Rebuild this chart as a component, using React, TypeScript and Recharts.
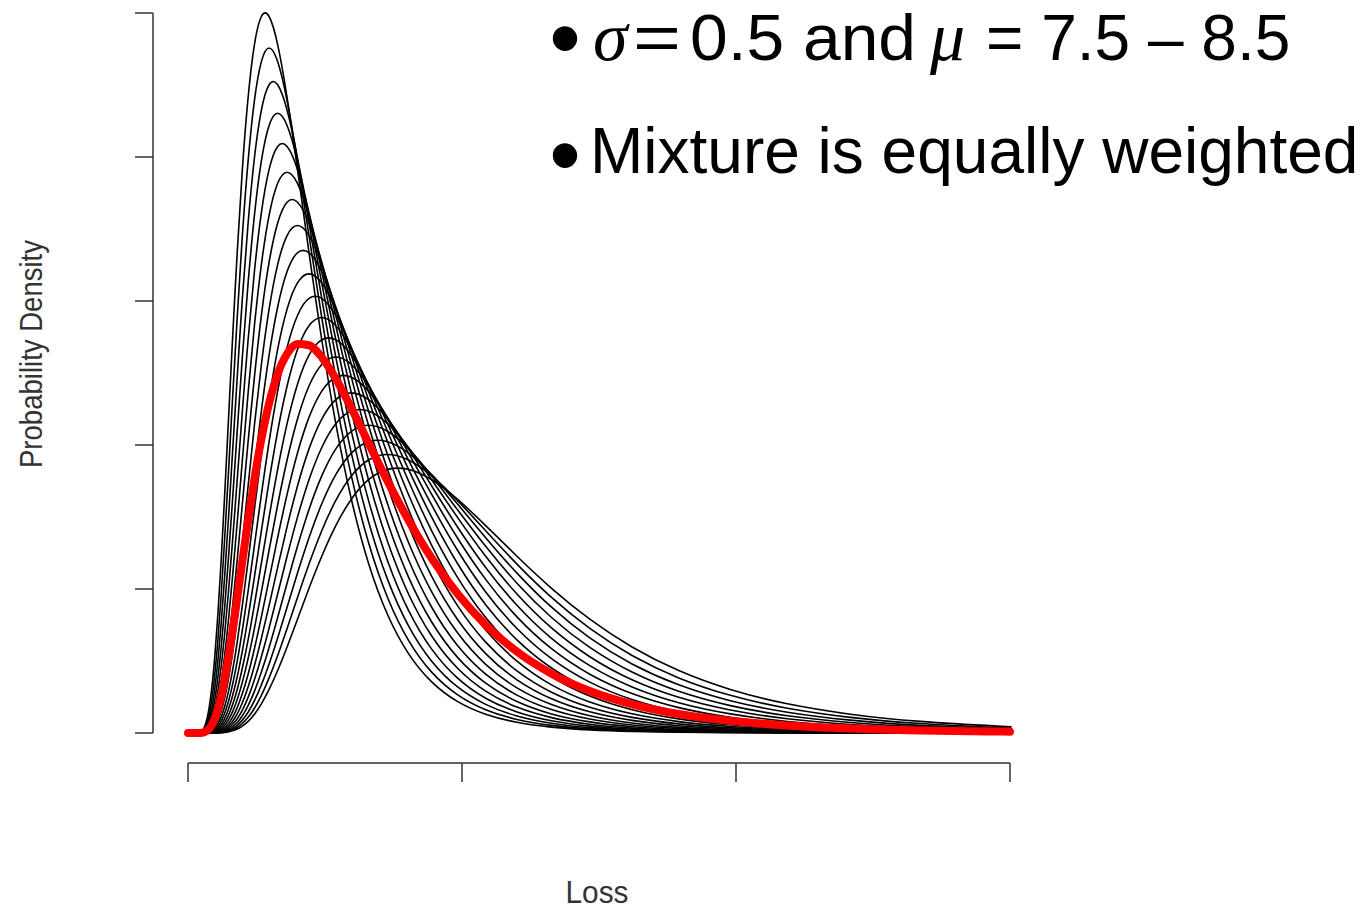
import React from 'react';
import { LineChart, Line, XAxis, YAxis, Label } from 'recharts';

// Loss grid (x values)
const lossValues = [0, 148, 164, 181, 200, 221, 245, 270, 299, 330, 365, 403, 446, 493, 545, 602, 665, 735, 812, 898, 992, 1097, 1212, 1339, 1480, 1636, 1808, 1998, 2208, 2441, 2697, 2981, 3294, 3641, 4024, 4447, 4915, 5432, 6003, 6634, 7332, 8103, 8955, 9897, 10938, 12088, 13360, 14765, 15000];

// Lognormal densities (sigma = 0.5, mu = 7.50 ... 8.50), values in units of 1e-4
const mu750 = [0, 0.0002, 0.0005, 0.0011, 0.0025, 0.0053, 0.0109, 0.0216, 0.0410, 0.0746, 0.1306, 0.2197, 0.3551, 0.5513, 0.8226, 1.1788, 1.6235, 2.1482, 2.7309, 3.3359, 3.9148, 4.4131, 4.7805, 4.9757, 4.9757, 4.7805, 4.4131, 3.9148, 3.3359, 2.7309, 2.1482, 1.6235, 1.1788, 0.8226, 0.5513, 0.3551, 0.2197, 0.1306, 0.0746, 0.0410, 0.0216, 0.0109, 0.0053, 0.0025, 0.0011, 0.0005, 0.0002, 0.0001, 0.0001];
const mu755 = [0, 0.0001, 0.0003, 0.0007, 0.0016, 0.0035, 0.0073, 0.0146, 0.0284, 0.0529, 0.0944, 0.1620, 0.2670, 0.4230, 0.6438, 0.9413, 1.3226, 1.7854, 2.3154, 2.8852, 3.4542, 3.9733, 4.3911, 4.6626, 4.7568, 4.6626, 4.3911, 3.9733, 3.4542, 2.8852, 2.3154, 1.7854, 1.3226, 0.9413, 0.6438, 0.4230, 0.2670, 0.1620, 0.0944, 0.0529, 0.0284, 0.0146, 0.0073, 0.0035, 0.0016, 0.0007, 0.0003, 0.0001, 0.0001];
const mu760 = [0, 0.0001, 0.0002, 0.0005, 0.0010, 0.0023, 0.0048, 0.0099, 0.0195, 0.0371, 0.0675, 0.1182, 0.1988, 0.3213, 0.4988, 0.7443, 1.0666, 1.4690, 1.9437, 2.4709, 3.0183, 3.5421, 3.9930, 4.3254, 4.5020, 4.5020, 4.3254, 3.9930, 3.5421, 3.0183, 2.4709, 1.9437, 1.4690, 1.0666, 0.7443, 0.4988, 0.3213, 0.1988, 0.1182, 0.0675, 0.0371, 0.0195, 0.0099, 0.0048, 0.0023, 0.0010, 0.0005, 0.0002, 0.0002];
const mu765 = [0, 0, 0.0001, 0.0003, 0.0006, 0.0015, 0.0032, 0.0066, 0.0133, 0.0257, 0.0479, 0.0854, 0.1466, 0.2416, 0.3828, 0.5825, 0.8518, 1.1967, 1.6155, 2.0951, 2.6106, 3.1255, 3.5952, 3.9732, 4.2189, 4.3041, 4.2189, 3.9732, 3.5952, 3.1255, 2.6106, 2.0951, 1.6155, 1.1967, 0.8518, 0.5825, 0.3828, 0.2416, 0.1466, 0.0854, 0.0479, 0.0257, 0.0133, 0.0066, 0.0032, 0.0015, 0.0006, 0.0003, 0.0002];
const mu770 = [0, 0, 0.0001, 0.0002, 0.0004, 0.0009, 0.0020, 0.0043, 0.0089, 0.0177, 0.0336, 0.0611, 0.1069, 0.1799, 0.2907, 0.4513, 0.6735, 0.9651, 1.3292, 1.7588, 2.2358, 2.7311, 3.2050, 3.6130, 3.9138, 4.0736, 4.0736, 3.9138, 3.6130, 3.2050, 2.7311, 2.2358, 1.7588, 1.3292, 0.9651, 0.6735, 0.4513, 0.2907, 0.1799, 0.1069, 0.0611, 0.0336, 0.0177, 0.0089, 0.0043, 0.0020, 0.0009, 0.0004, 0.0004];
const mu775 = [0, 0, 0, 0.0001, 0.0002, 0.0005, 0.0013, 0.0029, 0.0060, 0.0120, 0.0233, 0.0433, 0.0773, 0.1326, 0.2186, 0.3463, 0.5271, 0.7707, 1.0828, 1.4617, 1.8957, 2.3622, 2.8281, 3.2531, 3.5951, 3.8175, 3.8945, 3.8175, 3.5951, 3.2531, 2.8281, 2.3622, 1.8957, 1.4617, 1.0828, 0.7707, 0.5271, 0.3463, 0.2186, 0.1326, 0.0773, 0.0433, 0.0233, 0.0120, 0.0060, 0.0029, 0.0013, 0.0005, 0.0005];
const mu780 = [0, 0, 0, 0, 0.0001, 0.0004, 0.0008, 0.0019, 0.0039, 0.0081, 0.0160, 0.0304, 0.0553, 0.0967, 0.1628, 0.2631, 0.4084, 0.6094, 0.8733, 1.2027, 1.5914, 2.0230, 2.4712, 2.9001, 3.2693, 3.5414, 3.6860, 3.6860, 3.5414, 3.2693, 2.9001, 2.4712, 2.0230, 1.5914, 1.2027, 0.8733, 0.6094, 0.4084, 0.2631, 0.1628, 0.0967, 0.0553, 0.0304, 0.0160, 0.0081, 0.0039, 0.0019, 0.0008, 0.0007];
const mu785 = [0, 0, 0, 0, 0.0001, 0.0002, 0.0005, 0.0012, 0.0026, 0.0054, 0.0109, 0.0211, 0.0392, 0.0699, 0.1200, 0.1978, 0.3134, 0.4769, 0.6974, 0.9798, 1.3226, 1.7153, 2.1374, 2.5589, 2.9435, 3.2530, 3.4542, 3.5239, 3.4542, 3.2530, 2.9435, 2.5589, 2.1374, 1.7153, 1.3226, 0.9798, 0.6974, 0.4769, 0.3134, 0.1978, 0.1200, 0.0699, 0.0392, 0.0211, 0.0109, 0.0054, 0.0026, 0.0012, 0.0010];
const mu790 = [0, 0, 0, 0, 0, 0.0001, 0.0003, 0.0007, 0.0017, 0.0036, 0.0073, 0.0145, 0.0275, 0.0500, 0.0875, 0.1473, 0.2380, 0.3695, 0.5514, 0.7902, 1.0882, 1.4399, 1.8305, 2.2361, 2.6241, 2.9581, 3.2043, 3.3352, 3.3352, 3.2043, 2.9581, 2.6241, 2.2361, 1.8305, 1.4399, 1.0882, 0.7902, 0.5514, 0.3695, 0.2380, 0.1473, 0.0875, 0.0500, 0.0275, 0.0145, 0.0073, 0.0036, 0.0017, 0.0015];
const mu795 = [0, 0, 0, 0, 0, 0.0001, 0.0002, 0.0004, 0.0011, 0.0024, 0.0049, 0.0098, 0.0191, 0.0355, 0.0633, 0.1086, 0.1790, 0.2836, 0.4316, 0.6310, 0.8866, 1.1968, 1.5521, 1.9340, 2.3154, 2.6634, 2.9434, 3.1255, 3.1886, 3.1255, 2.9434, 2.6634, 2.3154, 1.9340, 1.5521, 1.1968, 0.8866, 0.6310, 0.4316, 0.2836, 0.1790, 0.1086, 0.0633, 0.0355, 0.0191, 0.0098, 0.0049, 0.0024, 0.0021];
const mu800 = [0, 0, 0, 0, 0, 0, 0.0001, 0.0003, 0.0007, 0.0015, 0.0032, 0.0066, 0.0131, 0.0249, 0.0452, 0.0792, 0.1332, 0.2154, 0.3344, 0.4989, 0.7150, 0.9847, 1.3029, 1.6563, 2.0232, 2.3743, 2.6766, 2.8994, 3.0177, 3.0177, 2.8994, 2.6766, 2.3743, 2.0232, 1.6563, 1.3029, 0.9847, 0.7150, 0.4989, 0.3344, 0.2154, 0.1332, 0.0792, 0.0452, 0.0249, 0.0131, 0.0066, 0.0032, 0.0029];
const mu805 = [0, 0, 0, 0, 0, 0, 0.0001, 0.0002, 0.0004, 0.0010, 0.0021, 0.0044, 0.0089, 0.0173, 0.0321, 0.0572, 0.0983, 0.1620, 0.2566, 0.3905, 0.5710, 0.8022, 1.0829, 1.4044, 1.7500, 2.0951, 2.4099, 2.6633, 2.8280, 2.8852, 2.8280, 2.6633, 2.4099, 2.0951, 1.7500, 1.4044, 1.0829, 0.8022, 0.5710, 0.3905, 0.2566, 0.1620, 0.0983, 0.0572, 0.0321, 0.0173, 0.0089, 0.0044, 0.0039];
const mu810 = [0, 0, 0, 0, 0, 0, 0, 0.0001, 0.0003, 0.0006, 0.0014, 0.0029, 0.0060, 0.0119, 0.0225, 0.0409, 0.0717, 0.1206, 0.1949, 0.3026, 0.4514, 0.6469, 0.8910, 1.1789, 1.4987, 1.8307, 2.1484, 2.4219, 2.6236, 2.7306, 2.7306, 2.6236, 2.4219, 2.1484, 1.8307, 1.4987, 1.1789, 0.8910, 0.6469, 0.4514, 0.3026, 0.1949, 0.1206, 0.0717, 0.0409, 0.0225, 0.0119, 0.0060, 0.0054];
const mu815 = [0, 0, 0, 0, 0, 0, 0, 0.0001, 0.0002, 0.0004, 0.0009, 0.0019, 0.0040, 0.0080, 0.0156, 0.0290, 0.0518, 0.0889, 0.1465, 0.2322, 0.3533, 0.5166, 0.7259, 0.9798, 1.2707, 1.5834, 1.8957, 2.1806, 2.4099, 2.5589, 2.6106, 2.5589, 2.4099, 2.1806, 1.8957, 1.5834, 1.2707, 0.9798, 0.7259, 0.5166, 0.3533, 0.2322, 0.1465, 0.0889, 0.0518, 0.0290, 0.0156, 0.0080, 0.0072];
const mu820 = [0, 0, 0, 0, 0, 0, 0, 0, 0.0001, 0.0002, 0.0005, 0.0012, 0.0026, 0.0054, 0.0107, 0.0204, 0.0370, 0.0649, 0.1091, 0.1764, 0.2738, 0.4085, 0.5854, 0.8063, 1.0668, 1.3562, 1.6567, 1.9441, 2.1916, 2.3740, 2.4710, 2.4710, 2.3740, 2.1916, 1.9441, 1.6567, 1.3562, 1.0668, 0.8063, 0.5854, 0.4085, 0.2738, 0.1764, 0.1091, 0.0649, 0.0370, 0.0204, 0.0107, 0.0097];
const mu825 = [0, 0, 0, 0, 0, 0, 0, 0, 0, 0.0001, 0.0003, 0.0008, 0.0017, 0.0036, 0.0073, 0.0141, 0.0263, 0.0469, 0.0804, 0.1326, 0.2101, 0.3197, 0.4675, 0.6568, 0.8866, 1.1498, 1.4327, 1.7153, 1.9731, 2.1805, 2.3154, 2.3622, 2.3154, 2.1805, 1.9731, 1.7153, 1.4327, 1.1498, 0.8866, 0.6568, 0.4675, 0.3197, 0.2101, 0.1326, 0.0804, 0.0469, 0.0263, 0.0141, 0.0128];
const mu830 = [0, 0, 0, 0, 0, 0, 0, 0, 0, 0.0001, 0.0002, 0.0005, 0.0011, 0.0024, 0.0049, 0.0097, 0.0184, 0.0335, 0.0587, 0.0987, 0.1595, 0.2477, 0.3696, 0.5297, 0.7295, 0.9652, 1.2270, 1.4989, 1.7590, 1.9828, 2.1479, 2.2356, 2.2356, 2.1479, 1.9828, 1.7590, 1.4989, 1.2270, 0.9652, 0.7295, 0.5297, 0.3696, 0.2477, 0.1595, 0.0987, 0.0587, 0.0335, 0.0184, 0.0167];
const mu835 = [0, 0, 0, 0, 0, 0, 0, 0, 0, 0, 0.0001, 0.0003, 0.0007, 0.0016, 0.0033, 0.0066, 0.0128, 0.0238, 0.0424, 0.0728, 0.1200, 0.1901, 0.2893, 0.4230, 0.5943, 0.8022, 1.0404, 1.2964, 1.5521, 1.7853, 1.9730, 2.0951, 2.1374, 2.0951, 1.9730, 1.7853, 1.5521, 1.2964, 1.0404, 0.8022, 0.5943, 0.4230, 0.2893, 0.1901, 0.1200, 0.0728, 0.0424, 0.0238, 0.0216];
const mu840 = [0, 0, 0, 0, 0, 0, 0, 0, 0, 0, 0.0001, 0.0002, 0.0004, 0.0010, 0.0022, 0.0044, 0.0088, 0.0167, 0.0303, 0.0531, 0.0893, 0.1444, 0.2242, 0.3345, 0.4793, 0.6601, 0.8735, 1.1104, 1.3564, 1.5917, 1.7943, 1.9438, 2.0231, 2.0231, 1.9438, 1.7943, 1.5917, 1.3564, 1.1104, 0.8735, 0.6601, 0.4793, 0.3345, 0.2242, 0.1444, 0.0893, 0.0531, 0.0303, 0.0277];
const mu845 = [0, 0, 0, 0, 0, 0, 0, 0, 0, 0, 0, 0.0001, 0.0003, 0.0007, 0.0014, 0.0030, 0.0060, 0.0116, 0.0215, 0.0384, 0.0659, 0.1086, 0.1720, 0.2617, 0.3827, 0.5377, 0.7259, 0.9414, 1.1730, 1.4044, 1.6154, 1.7853, 1.8957, 1.9340, 1.8957, 1.7853, 1.6154, 1.4044, 1.1730, 0.9414, 0.7259, 0.5377, 0.3827, 0.2617, 0.1720, 0.1086, 0.0659, 0.0384, 0.0351];
const mu850 = [0, 0, 0, 0, 0, 0, 0, 0, 0, 0, 0, 0.0001, 0.0002, 0.0004, 0.0009, 0.0019, 0.0040, 0.0079, 0.0151, 0.0274, 0.0480, 0.0808, 0.1306, 0.2028, 0.3026, 0.4337, 0.5973, 0.7903, 1.0047, 1.2273, 1.4403, 1.6235, 1.7588, 1.8306, 1.8306, 1.7588, 1.6235, 1.4403, 1.2273, 1.0047, 0.7903, 0.5973, 0.4337, 0.3026, 0.2028, 0.1306, 0.0808, 0.0480, 0.0441];

// Equally weighted mixture (red)
const mixture = [0, 0, 0.0001, 0.0001, 0.0003, 0.0007, 0.0015, 0.0031, 0.0061, 0.0116, 0.0212, 0.0374, 0.0634, 0.1038, 0.1637, 0.2489, 0.3653, 0.5175, 0.7077, 0.9350, 1.1941, 1.4749, 1.7631, 2.0413, 2.2904, 2.4926, 2.6328, 2.7009, 2.6926, 2.6099, 2.4607, 2.2573, 2.0147, 1.7495, 1.4777, 1.2136, 0.9686, 0.7508, 0.5649, 0.4121, 0.2915, 0.1996, 0.1323, 0.0848, 0.0526, 0.0315, 0.0182, 0.0101, 0.0092];

const xTicks = [0, 5000, 10000, 15000];
const yTicks = [0, 1, 2, 3, 4, 5];

const curveSeries = [
  { key: 'mu750', values: mu750 },
  { key: 'mu755', values: mu755 },
  { key: 'mu760', values: mu760 },
  { key: 'mu765', values: mu765 },
  { key: 'mu770', values: mu770 },
  { key: 'mu775', values: mu775 },
  { key: 'mu780', values: mu780 },
  { key: 'mu785', values: mu785 },
  { key: 'mu790', values: mu790 },
  { key: 'mu795', values: mu795 },
  { key: 'mu800', values: mu800 },
  { key: 'mu805', values: mu805 },
  { key: 'mu810', values: mu810 },
  { key: 'mu815', values: mu815 },
  { key: 'mu820', values: mu820 },
  { key: 'mu825', values: mu825 },
  { key: 'mu830', values: mu830 },
  { key: 'mu835', values: mu835 },
  { key: 'mu840', values: mu840 },
  { key: 'mu845', values: mu845 },
  { key: 'mu850', values: mu850 },
];

const data = lossValues.map((loss, i) => {
  const row: Record<string, number> = { loss, mixture: mixture[i] };
  curveSeries.forEach((s) => {
    row[s.key] = s.values[i];
  });
  return row;
});

const SANS = "'Liberation Sans', Arial, Helvetica, sans-serif";
const SERIF = "'Liberation Serif', 'Times New Roman', serif";
const AXIS_COLOR = '#333';
const blankTick = () => '';

const renderLossTitle = (props: any) => {
  const vb = props.viewBox || { x: 145, width: 888 };
  return (
    <text
      x={vb.x + vb.width / 2}
      y={895}
      textAnchor="middle"
      fontFamily={SANS}
      fontSize={31}
      textLength={63}
      lengthAdjust="spacingAndGlyphs"
      fill={AXIS_COLOR}
    >
      Loss
    </text>
  );
};

const renderDensityTitle = () => (
  <text
    transform="translate(34, 346) rotate(-90)"
    textAnchor="middle"
    fontFamily={SANS}
    fontSize={31}
    textLength={228}
    lengthAdjust="spacingAndGlyphs"
    fill={AXIS_COLOR}
  >
    Probability Density
  </text>
);

export default function App() {
  return (
    <div style={{ position: 'relative', width: 1364, height: 900 }}>
      <LineChart
        width={1364}
        height={900}
        data={data}
        margin={{ top: 5, right: 331, bottom: 0, left: 105 }}
      >
        <XAxis
          dataKey="loss"
          type="number"
          domain={[0, 15000]}
          ticks={xTicks}
          interval={0}
          padding={{ left: 35, right: 31 }}
          height={145}
          tickSize={19}
          tickFormatter={blankTick}
          stroke={AXIS_COLOR}
          axisLine={{ stroke: AXIS_COLOR, strokeWidth: 1.5, strokeDasharray: '0 35 822 100' }}
          tickLine={{ stroke: AXIS_COLOR, strokeWidth: 1.5 }}
        >
          <Label content={renderLossTitle} />
        </XAxis>
        <YAxis
          type="number"
          domain={[0, 5]}
          ticks={yTicks}
          interval={0}
          padding={{ top: 0, bottom: 30 }}
          width={40}
          tickSize={18}
          tickFormatter={blankTick}
          stroke={AXIS_COLOR}
          axisLine={{ stroke: AXIS_COLOR, strokeWidth: 1.5, strokeDasharray: '720 100' }}
          tickLine={{ stroke: AXIS_COLOR, strokeWidth: 1.5 }}
        >
          <Label content={renderDensityTitle} />
        </YAxis>
        {curveSeries.map((s) => (
          <Line
            key={s.key}
            dataKey={s.key}
            type="natural"
            stroke="#000"
            strokeWidth={1.6}
            dot={false}
            activeDot={false}
            isAnimationActive={false}
          />
        ))}
        <Line
          dataKey="mixture"
          type="monotone"
          stroke="#ff0000"
          strokeWidth={8}
          strokeLinecap="round"
          strokeLinejoin="round"
          dot={false}
          activeDot={false}
          isAnimationActive={false}
        />
      </LineChart>
      <svg
        width={1364}
        height={900}
        style={{ position: 'absolute', left: 0, top: 0, pointerEvents: 'none' }}
      >
        <text x={557} y={61} fontSize={90} textAnchor="middle" fontFamily={SANS} fill="#000">•</text>
        <text x={585} y={52} fontSize={70} fontStyle="italic" fontFamily={SERIF} fill="#000">σ</text>
        <text x={625} y={52} fontSize={64} fontFamily={SANS} fill="#000" textLength={48} lengthAdjust="spacingAndGlyphs">=</text>
        <text x={682} y={52} fontSize={64} fontFamily={SANS} fill="#000" textLength={226} lengthAdjust="spacingAndGlyphs">0.5 and</text>
        <text x={922} y={52} fontSize={70} fontStyle="italic" fontFamily={SERIF} fill="#000">μ</text>
        <text x={978} y={52} fontSize={64} fontFamily={SANS} fill="#000">= 7.5 – 8.5</text>
        <text x={557} y={178} fontSize={90} textAnchor="middle" fontFamily={SANS} fill="#000">•</text>
        <text x={582} y={165} fontSize={64} fontFamily={SANS} fill="#000">Mixture is equally weighted</text>
      </svg>
    </div>
  );
}
